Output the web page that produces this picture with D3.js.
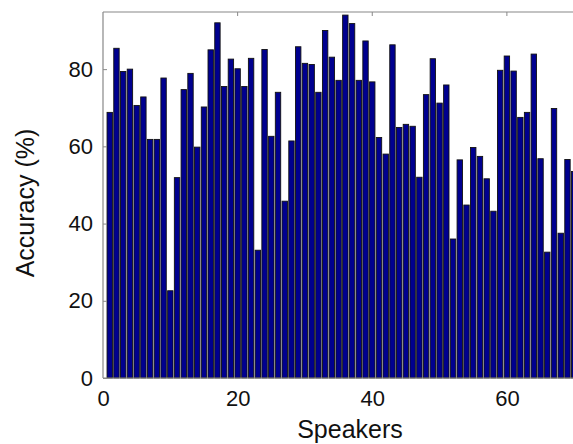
<!DOCTYPE html>
<html>
<head>
<meta charset="utf-8">
<script src="https://cdn.jsdelivr.net/npm/d3@7"></script>
<style>
  body { margin: 0; background: #fff; }
  text { font-family: "Liberation Sans", Arial, sans-serif; fill: #111; }
</style>
</head>
<body>
<div id="wrapper"></div>
<script>
// accuracy per speaker (1..70)
const speakers = d3.range(1, 71)
const accuracy = [
  68.8, 85.4, 79.4, 80.0, 70.6, 72.8, 61.8, 61.8, 77.7, 22.6,
  51.9, 74.7, 78.9, 59.8, 70.2, 85.0, 92.0, 75.5, 82.6, 80.1,
  75.5, 82.8, 33.1, 85.1, 62.6, 74.0, 45.8, 61.4, 85.8, 81.5,
  81.2, 74.0, 90.0, 83.1, 77.1, 94.0, 91.8, 77.1, 87.3, 76.7,
  62.3, 58.0, 86.3, 64.9, 65.7, 65.2, 52.0, 73.4, 82.7, 71.2,
  75.9, 36.0, 56.5, 44.8, 59.7, 57.4, 51.6, 43.2, 79.7, 83.4,
  79.5, 67.5, 68.8, 83.9, 56.8, 32.6, 69.8, 37.5, 56.6, 53.5
]
const xTicks = [0, 20, 40, 60]
const yTicks = [0, 20, 40, 60, 80]

const dataset = speakers.map((s, i) => ({speaker: s, acc: accuracy[i]}))
const xAccessor = d => d.speaker
const yAccessor = d => d.acc

const width = 573
const height = 444
const plot = {left: 103, top: 12, bottom: 378, right: 574.2}

const svg = d3.select("#wrapper").append("svg")
    .attr("width", width)
    .attr("height", height)

const xScale = d3.scaleLinear()
    .domain([0, 70])
    .range([plot.left, plot.right])

const yScale = d3.scaleLinear()
    .domain([0, 94.8])
    .range([plot.bottom, plot.top])

const barW = xScale(0.8) - xScale(0)

// bars
svg.append("g").selectAll("rect")
    .data(dataset).enter().append("rect")
        .attr("x", d => xScale(xAccessor(d)) - barW / 2)
        .attr("y", d => yScale(yAccessor(d)))
        .attr("width", barW)
        .attr("height", d => yScale(0) - yScale(yAccessor(d)))
        .attr("fill", "#00008f")
        .attr("stroke", "#111")
        .attr("stroke-width", 0.9)

// axes frame (gray)
const frame = svg.append("g")
    .attr("stroke", "#888")
    .attr("stroke-width", 1.2)
    .attr("fill", "none")
frame.append("line")
    .attr("x1", plot.left).attr("x2", plot.left)
    .attr("y1", plot.top).attr("y2", plot.bottom)
frame.append("line")
    .attr("x1", plot.left).attr("x2", width)
    .attr("y1", plot.top).attr("y2", plot.top)
frame.append("line")
    .attr("x1", plot.left).attr("x2", width)
    .attr("y1", plot.bottom).attr("y2", plot.bottom)

// y axis ticks and labels
const yAxisGenerator = d3.axisLeft(yScale)
    .tickValues(yTicks)
    .tickSizeInner(-4)
    .tickSizeOuter(0)
    .tickPadding(10)
const yAxis = svg.append("g")
    .attr("transform", `translate(${plot.left},0)`)
    .call(yAxisGenerator)
yAxis.select(".domain").remove()
yAxis.selectAll(".tick line").attr("stroke", "#888")
yAxis.selectAll(".tick text")
    .style("font-size", "22px")
    .attr("fill", "#111")

// x axis labels + top ticks
const xAxisGenerator = d3.axisBottom(xScale)
    .tickValues(xTicks)
    .tickSize(0)
    .tickPadding(12)
const xAxis = svg.append("g")
    .attr("transform", `translate(0,${plot.bottom})`)
    .call(xAxisGenerator)
xAxis.select(".domain").remove()
xAxis.selectAll(".tick text")
    .style("font-size", "22px")
    .attr("fill", "#111")

svg.append("g").selectAll("line")
    .data(xTicks.slice(1)).enter().append("line")
        .attr("x1", d => xScale(d)).attr("x2", d => xScale(d))
        .attr("y1", plot.top).attr("y2", plot.top + 4)
        .attr("stroke", "#888")

// axis titles
svg.append("text")
    .attr("x", 350)
    .attr("y", 438)
    .attr("text-anchor", "middle")
    .style("font-size", "25px")
    .text("Speakers")

svg.append("text")
    .attr("transform", "translate(34,203) rotate(-90)")
    .attr("text-anchor", "middle")
    .style("font-size", "25px")
    .text("Accuracy (%)")
</script>
</body>
</html>
